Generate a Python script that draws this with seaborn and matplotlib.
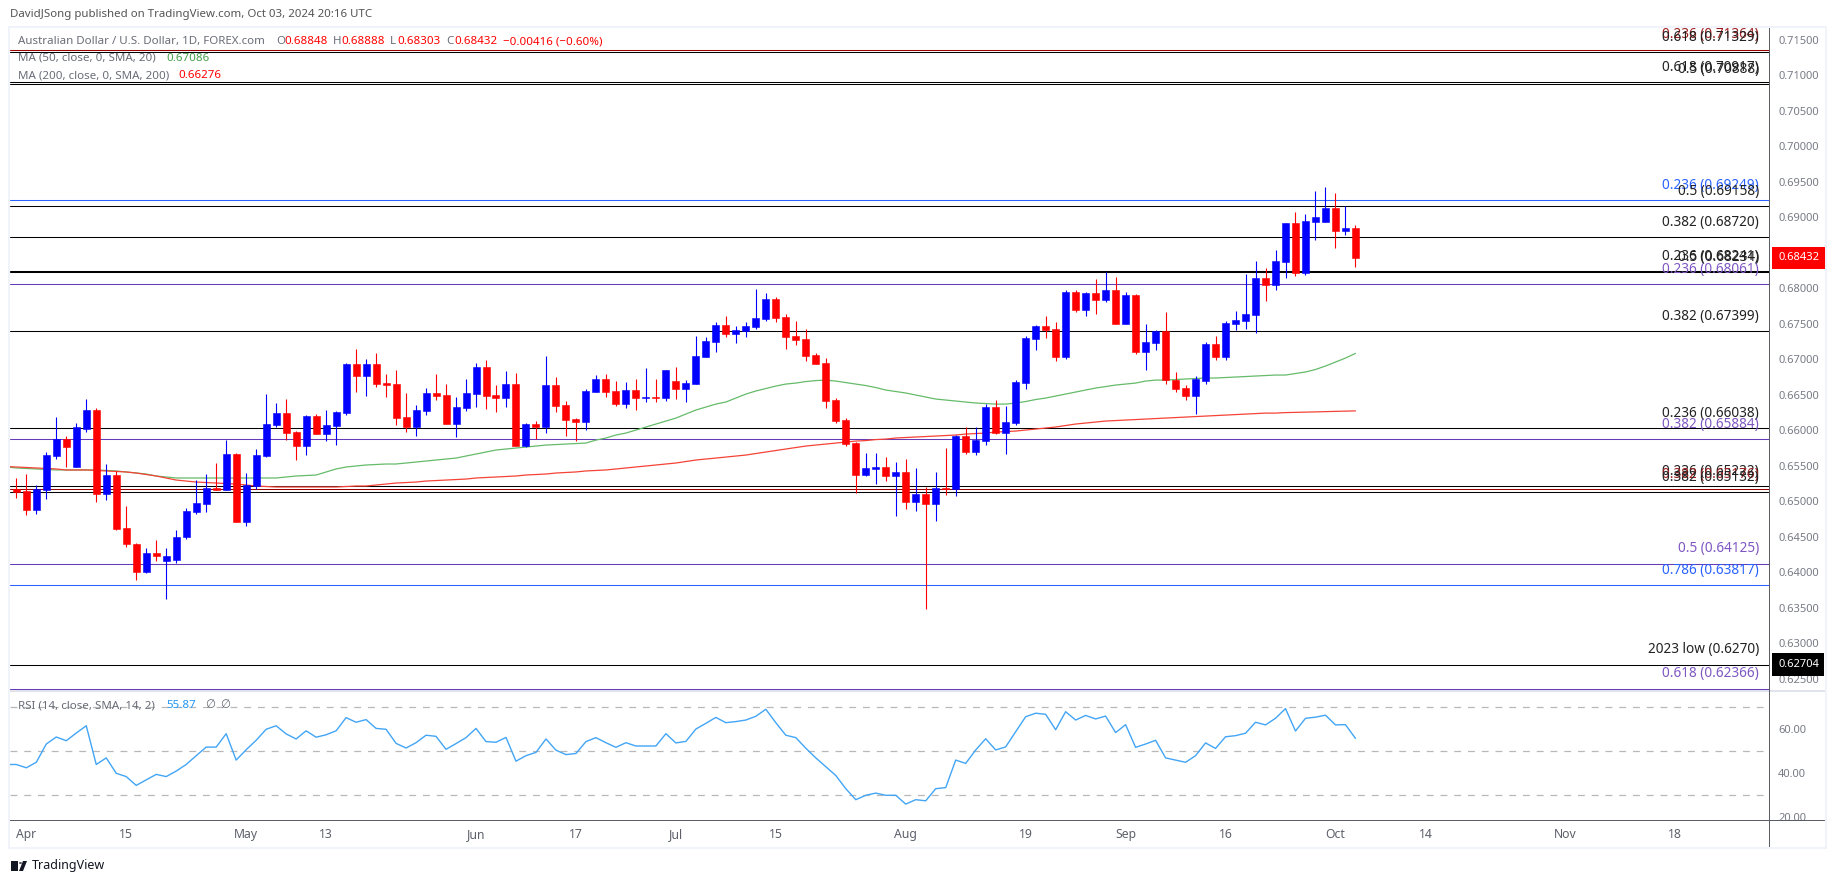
#!/usr/bin/env python3
"""AUD/USD daily candles with moving averages, fib levels and RSI"""

import numpy as np
import pandas as pd
import matplotlib
matplotlib.use('Agg')
import matplotlib.pyplot as plt
import matplotlib.transforms as mtrans
from matplotlib.patches import Rectangle, Circle, Polygon
import seaborn as sns

# Daily bars, first one is Mar 29 2024
opens = [0.6517, 0.6515, 0.6488, 0.6516, 0.6564, 0.6588, 0.6548, 0.6602, 0.6629, 0.6511,
         0.6537, 0.6463, 0.6440, 0.6401, 0.6427, 0.6416, 0.6418, 0.6450, 0.6485, 0.6497,
         0.6519, 0.6516, 0.6567, 0.6471, 0.6522, 0.6564, 0.6608, 0.6625, 0.6598, 0.6578,
         0.6621, 0.6595, 0.6606, 0.6625, 0.6694, 0.6677, 0.6694, 0.6667, 0.6665, 0.6619,
         0.6605, 0.6627, 0.6653, 0.6650, 0.6609, 0.6632, 0.6652, 0.6690, 0.6650, 0.6646,
         0.6665, 0.6578, 0.6609, 0.6605, 0.6664, 0.6636, 0.6616, 0.6612, 0.6654, 0.6673,
         0.6656, 0.6637, 0.6657, 0.6646, 0.6647, 0.6646, 0.6670, 0.6658, 0.6665, 0.6703,
         0.6725, 0.6748, 0.6736, 0.6740, 0.6746, 0.6757, 0.6785, 0.6760, 0.6733, 0.6729,
         0.6706, 0.6695, 0.6643, 0.6615, 0.6582, 0.6537, 0.6546, 0.6549, 0.6536, 0.6541,
         0.6499, 0.6511, 0.6497, 0.6519, 0.6518, 0.6592, 0.6570, 0.6585, 0.6633, 0.6597,
         0.6611, 0.6667, 0.6729, 0.6747, 0.6743, 0.6703, 0.6795, 0.6770, 0.6794, 0.6784,
         0.6798, 0.6750, 0.6791, 0.6711, 0.6723, 0.6740, 0.6671, 0.6660, 0.6649, 0.6670,
         0.6722, 0.6703, 0.6750, 0.6754, 0.6763, 0.6815, 0.6805, 0.6837, 0.6892, 0.6822,
         0.6894, 0.6894, 0.6913, 0.6881, 0.68848]
highs = [0.6533, 0.6539, 0.6523, 0.6570, 0.6619, 0.6592, 0.6611, 0.6644, 0.6632, 0.6553,
         0.6543, 0.6494, 0.6441, 0.6434, 0.6446, 0.6434, 0.6460, 0.6491, 0.6530, 0.6539,
         0.6554, 0.6587, 0.6568, 0.6540, 0.6574, 0.6651, 0.6639, 0.6644, 0.6599, 0.6622,
         0.6623, 0.6629, 0.6627, 0.6695, 0.6715, 0.6701, 0.6709, 0.6680, 0.6685, 0.6653,
         0.6636, 0.6660, 0.6680, 0.6665, 0.6647, 0.6673, 0.6695, 0.6699, 0.6664, 0.6684,
         0.6681, 0.6611, 0.6613, 0.6705, 0.6676, 0.6642, 0.6618, 0.6658, 0.6678, 0.6680,
         0.6670, 0.6668, 0.6673, 0.6688, 0.6673, 0.6685, 0.6690, 0.6671, 0.6733, 0.6732,
         0.6753, 0.6761, 0.6747, 0.6753, 0.6799, 0.6794, 0.6788, 0.6764, 0.6754, 0.6743,
         0.6709, 0.6702, 0.6646, 0.6618, 0.6584, 0.6568, 0.6568, 0.6563, 0.6556, 0.6560,
         0.6547, 0.6520, 0.6541, 0.6575, 0.6594, 0.6605, 0.6605, 0.6637, 0.6643, 0.6635,
         0.6671, 0.6733, 0.6749, 0.6761, 0.6753, 0.6798, 0.6798, 0.6795, 0.6813, 0.6823,
         0.6816, 0.6795, 0.6792, 0.6750, 0.6742, 0.6767, 0.6682, 0.6664, 0.6677, 0.6725,
         0.6733, 0.6754, 0.6768, 0.6820, 0.6839, 0.6829, 0.6854, 0.6892, 0.6908, 0.6905,
         0.6937, 0.6943, 0.6934, 0.6916, 0.68888]
lows = [0.6505, 0.6481, 0.6482, 0.6503, 0.6560, 0.6549, 0.6548, 0.6598, 0.6499, 0.6502,
        0.6460, 0.6436, 0.6389, 0.6399, 0.6416, 0.6363, 0.6413, 0.6447, 0.6482, 0.6485,
        0.6516, 0.6516, 0.6471, 0.6465, 0.6518, 0.6563, 0.6605, 0.6587, 0.6558, 0.6565,
        0.6595, 0.6585, 0.6580, 0.6622, 0.6654, 0.6649, 0.6661, 0.6647, 0.6608, 0.6598,
        0.6592, 0.6622, 0.6643, 0.6609, 0.6591, 0.6627, 0.6633, 0.6630, 0.6626, 0.6633,
        0.6578, 0.6577, 0.6588, 0.6597, 0.6626, 0.6592, 0.6585, 0.6601, 0.6654, 0.6647,
        0.6634, 0.6632, 0.6629, 0.6640, 0.6640, 0.6641, 0.6644, 0.6640, 0.6665, 0.6703,
        0.6711, 0.6732, 0.6723, 0.6732, 0.6743, 0.6754, 0.6753, 0.6715, 0.6720, 0.6698,
        0.6694, 0.6632, 0.6611, 0.6578, 0.6512, 0.6536, 0.6525, 0.6529, 0.6480, 0.6489,
        0.6487, 0.6349, 0.6473, 0.6509, 0.6508, 0.6567, 0.6565, 0.6580, 0.6595, 0.6567,
        0.6608, 0.6658, 0.6713, 0.6730, 0.6698, 0.6701, 0.6767, 0.6761, 0.6764, 0.6781,
        0.6750, 0.6750, 0.6708, 0.6685, 0.6713, 0.6665, 0.6654, 0.6643, 0.6623, 0.6665,
        0.6699, 0.6699, 0.6741, 0.6743, 0.6737, 0.6782, 0.6798, 0.6815, 0.6818, 0.6819,
        0.6868, 0.6894, 0.6857, 0.6875, 0.68303]
closes = [0.6513, 0.6488, 0.6518, 0.6566, 0.6588, 0.6577, 0.6605, 0.6629, 0.6511, 0.6537,
          0.6461, 0.6440, 0.6401, 0.6427, 0.6423, 0.6423, 0.6450, 0.6487, 0.6498, 0.6519,
          0.6516, 0.6567, 0.6471, 0.6523, 0.6566, 0.6609, 0.6625, 0.6597, 0.6578, 0.6621,
          0.6595, 0.6608, 0.6626, 0.6694, 0.6677, 0.6694, 0.6665, 0.6664, 0.6617, 0.6605,
          0.6629, 0.6653, 0.6649, 0.6609, 0.6633, 0.6653, 0.6690, 0.6649, 0.6646, 0.6665,
          0.6578, 0.6609, 0.6605, 0.6664, 0.6634, 0.6615, 0.6612, 0.6656, 0.6673, 0.6654,
          0.6637, 0.6657, 0.6646, 0.6647, 0.6646, 0.6685, 0.6658, 0.6667, 0.6705, 0.6726,
          0.6748, 0.6736, 0.6741, 0.6747, 0.6758, 0.6785, 0.6758, 0.6732, 0.6727, 0.6705,
          0.6694, 0.6641, 0.6613, 0.6581, 0.6537, 0.6547, 0.6549, 0.6536, 0.6541, 0.6499,
          0.6511, 0.6497, 0.6519, 0.6518, 0.6592, 0.6570, 0.6587, 0.6633, 0.6597, 0.6612,
          0.6668, 0.6730, 0.6747, 0.6742, 0.6703, 0.6795, 0.6770, 0.6794, 0.6784, 0.6798,
          0.6750, 0.6791, 0.6711, 0.6725, 0.6740, 0.6671, 0.6658, 0.6649, 0.6672, 0.6722,
          0.6703, 0.6751, 0.6756, 0.6764, 0.6815, 0.6805, 0.6839, 0.6892, 0.6822, 0.6895,
          0.6901, 0.6913, 0.6881, 0.6885, 0.68432]

# Indicators, these start one bar earlier (Mar 28) since the pane cuts them off at the left edge
ma50 = [0.65486, 0.65472, 0.65465, 0.65458, 0.65451, 0.65444, 0.65444, 0.65444, 0.65444, 0.65444,
        0.65437, 0.6543, 0.65416, 0.65401, 0.65387, 0.65359, 0.65345, 0.65331, 0.65331, 0.65331,
        0.65331, 0.65331, 0.65331, 0.65331, 0.65331, 0.65331, 0.65331, 0.65331, 0.65345, 0.65359,
        0.65366, 0.65373, 0.65416, 0.65458, 0.65486, 0.655, 0.65514, 0.65521, 0.65528, 0.65528,
        0.65542, 0.65556, 0.6557, 0.65584, 0.65598, 0.65612, 0.6564, 0.65668, 0.65697, 0.65725,
        0.65739, 0.65753, 0.65767, 0.65781, 0.65795, 0.65802, 0.65809, 0.65816, 0.65823, 0.65865,
        0.65894, 0.65936, 0.65964, 0.66006, 0.66049, 0.66091, 0.66133, 0.66175, 0.66232, 0.66288,
        0.6633, 0.66372, 0.66401, 0.66457, 0.66513, 0.66556, 0.66591, 0.66626, 0.66654, 0.66668,
        0.66689, 0.66703, 0.6671, 0.66696, 0.66675, 0.66654, 0.66633, 0.66605, 0.6657, 0.66549,
        0.66528, 0.665, 0.66471, 0.66443, 0.66429, 0.66415, 0.66401, 0.66387, 0.6638, 0.66372,
        0.66372, 0.66387, 0.66408, 0.66436, 0.66457, 0.66485, 0.66513, 0.66542, 0.6657, 0.66598,
        0.66619, 0.6664, 0.66654, 0.66668, 0.66696, 0.6671, 0.6671, 0.66718, 0.66725, 0.66732,
        0.66739, 0.66739, 0.66746, 0.66753, 0.6676, 0.66767, 0.66774, 0.66781, 0.66781, 0.66802,
        0.66824, 0.66859, 0.66908, 0.66964, 0.6702, 0.67086]
ma200 = [0.65493, 0.65486, 0.65479, 0.65472, 0.65465, 0.65458, 0.65444, 0.65444, 0.65444, 0.65437,
         0.6543, 0.65423, 0.65416, 0.65401, 0.6538, 0.65359, 0.65331, 0.65302, 0.65288, 0.65274,
         0.65267, 0.6526, 0.65253, 0.65246, 0.65232, 0.65218, 0.65211, 0.65204, 0.65204, 0.65204,
         0.65204, 0.65204, 0.65204, 0.65204, 0.65211, 0.65218, 0.65218, 0.65232, 0.65246, 0.6526,
         0.65267, 0.65274, 0.65288, 0.65295, 0.65302, 0.65309, 0.65316, 0.65331, 0.65338, 0.65345,
         0.65352, 0.65359, 0.65373, 0.6538, 0.65387, 0.65401, 0.65408, 0.65416, 0.6543, 0.65437,
         0.65444, 0.65458, 0.65472, 0.65486, 0.655, 0.65514, 0.65528, 0.65542, 0.65563, 0.65584,
         0.65598, 0.65612, 0.65626, 0.6564, 0.65654, 0.65676, 0.65697, 0.65718, 0.65739, 0.6576,
         0.65781, 0.65795, 0.65809, 0.65823, 0.65837, 0.65851, 0.65858, 0.65872, 0.65879, 0.65894,
         0.65901, 0.65908, 0.65915, 0.65922, 0.65929, 0.65936, 0.6595, 0.65957, 0.65964, 0.65978,
         0.65985, 0.65992, 0.66006, 0.6602, 0.66035, 0.66049, 0.6607, 0.66091, 0.66105, 0.66119,
         0.66133, 0.6614, 0.66147, 0.66154, 0.66161, 0.66168, 0.66175, 0.66182, 0.66189, 0.66196,
         0.66203, 0.6621, 0.66217, 0.66224, 0.66231, 0.66238, 0.66245, 0.66245, 0.66252, 0.66255,
         0.66259, 0.66262, 0.66266, 0.6627, 0.66273, 0.66276]
rsi = [44, 44, 42.5, 45, 53.3, 56.5, 54.8, 58.3, 61.6, 44,
       47, 40, 38.5, 34.5, 37, 39.5, 38.5, 41, 44, 48,
       51.9, 51.9, 58, 46, 50.7, 55, 60, 61.6, 57.9, 55.6,
       59.3, 56.4, 57.5, 59.3, 65.3, 63.2, 64.4, 60.4, 60, 53.6,
       51.5, 53.9, 57.3, 56.8, 50.9, 53.5, 56.2, 60.4, 54.4, 54.1,
       56.3, 45.5, 48, 49.5, 55.6, 50.5, 48.5, 49, 54.4, 56.2,
       53.9, 51.8, 53.9, 52.4, 52.4, 52.4, 58, 53.8, 54.5, 60.1,
       62.7, 65.4, 63, 63.5, 64.2, 65.9, 69.1, 63, 57.3, 56.2,
       51.4, 47, 43, 39, 33, 28, 30, 31, 30, 30,
       26, 28, 27.5, 33, 33.5, 46, 44.5, 50.6, 55.7, 50.6,
       52, 58.9, 65.7, 67.3, 66.8, 59.8, 68, 64.2, 66.3, 64.7,
       66, 58.5, 62.1, 51.8, 53.3, 55, 47, 46, 45, 48,
       53.8, 51.3, 56.6, 57.1, 58.2, 63.2, 62, 65, 69.4, 59.2,
       65, 65.5, 66.4, 62, 62.1, 55.87]

# Horizontal levels drawn on the chart
level_values = [0.71364, 0.71329, 0.70905, 0.70877, 0.69249, 0.69158, 0.68720, 0.68241, 0.68234,
                0.68061, 0.67399, 0.66038, 0.65884, 0.65222, 0.65176, 0.65132, 0.64125, 0.63817,
                0.62704, 0.62366]
level_labels = ['0.236 (0.71364)', '0.618 (0.71329)', '0.618 (0.70917)', '0.5 (0.70888)',
                '0.236 (0.69249)', '0.5 (0.69158)', '0.382 (0.68720)', '0.236 (0.68241)',
                '0.5 (0.68234)', '0.236 (0.68061)', '0.382 (0.67399)', '0.236 (0.66038)',
                '0.382 (0.65884)', '0.236 (0.65222)', '0.382 (0.65176)', '0.382 (0.65132)',
                '0.5 (0.64125)', '0.786 (0.63817)', '2023 low (0.6270)', '0.618 (0.62366)']
level_kinds = ['red', 'black', 'black', 'black', 'blue', 'black', 'black', 'black', 'black',
               'purple', 'black', 'black', 'purple', 'black', 'red', 'black', 'purple', 'blue',
               'black', 'purple']

tick_dates = ['2024-04-01', '2024-04-15', '2024-05-01', '2024-05-13', '2024-06-03', '2024-06-17',
              '2024-07-01', '2024-07-15', '2024-08-01', '2024-08-19', '2024-09-02', '2024-09-16',
              '2024-10-01', '2024-10-14', '2024-11-01', '2024-11-18']
tick_labels = ['Apr', '15', 'May', '13', 'Jun', '17', 'Jul', '15', 'Aug', '19', 'Sep', '16',
               'Oct', '14', 'Nov', '18']
price_ticks = [0.625, 0.63, 0.635, 0.64, 0.645, 0.65, 0.655, 0.66, 0.665, 0.67, 0.675, 0.68,
               0.685, 0.69, 0.695, 0.70, 0.705, 0.71, 0.715]
rsi_ticks = [20, 40, 60]

W, H = 1835, 883
BLUE = '#0000ff'
RED = '#ff0000'
GREY = '#6a6d78'
LEVEL_COLORS = {'black': '#000000', 'red': '#990000', 'blue': '#2962ff', 'purple': '#673ab7'}
TEXT_COLORS = {'black': '#222222', 'red': '#a02020', 'blue': '#2962ff', 'purple': '#7e57c2'}

sns.set_theme(style='white')
plt.rcParams['font.family'] = ['Noto Sans', 'DejaVu Sans']

fig = plt.figure(figsize=(W / 100, H / 100), dpi=100, facecolor='white')


def pane(x0, y0, x1, y1):
    # axes from pixel box, y counted from the top like the screenshot
    return fig.add_axes([x0 / W, 1 - y1 / H, (x1 - x0) / W, (y1 - y0) / H])


def fig_box(x0, y0, x1, y1, color):
    fig.add_artist(Rectangle((x0 / W, 1 - y1 / H), (x1 - x0) / W, (y1 - y0) / H,
                             transform=fig.transFigure, facecolor=color, edgecolor='none'))


def fig_text(x, y, s, color=GREY, size=8.2, **kw):
    fig.text(x / W, 1 - y / H, s, color=color, fontsize=size, va='center', **kw)


ax = pane(10, 27, 1769, 690)
ax_rsi = pane(10, 691, 1769, 820)

start = pd.Timestamp('2024-03-29')
idx = np.arange(len(opens))
ind_x = np.arange(-1, len(opens))

# moving averages
sns.lineplot(x=ind_x, y=ma50, ax=ax, color='#66bb6a', lw=0.9, estimator=None, zorder=2)
sns.lineplot(x=ind_x, y=ma200, ax=ax, color='#f44336', lw=0.9, estimator=None, zorder=2)

# levels
trans = mtrans.blended_transform_factory(ax.transAxes, ax.transData)
for val, lab, kind in zip(level_values, level_labels, level_kinds):
    ax.axhline(val, color=LEVEL_COLORS[kind], lw=0.75, zorder=1)
    ax.annotate(lab, xy=(1, val), xycoords=trans, xytext=(-7.2, 10.6), textcoords='offset points',
                ha='right', va='center', fontsize=9.8, color=TEXT_COLORS[kind], zorder=5)

# candles
for i in idx:
    up = closes[i] >= opens[i]
    col = BLUE if up else RED
    ax.vlines(i, lows[i], highs[i], color=col, lw=0.8, zorder=3)
    ax.bar(i, abs(closes[i] - opens[i]), bottom=min(opens[i], closes[i]), width=0.7,
           color=col, edgecolor=col, linewidth=0.4, zorder=4)

ax.set_xlim(-0.63, 175.38)
ax.set_ylim(0.62345, 0.71683)
ax.set_yticks(price_ticks)
ax.set_yticklabels([f'{t:.5f}' for t in price_ticks])
ax.yaxis.tick_right()
ax.tick_params(axis='y', length=0, pad=6.5, labelsize=8.0, labelcolor='#787b86')
ax.set_xticks([])

# price tags on the axis
for val, bg in [(closes[-1], RED), (level_values[-2], '#000000')]:
    ax.annotate(f'{val:.5f}', xy=(1, val), xycoords=trans, xytext=(6.5, 0), textcoords='offset points',
                ha='left', va='center', fontsize=8.0, fontweight='bold', color='white', annotation_clip=False,
                bbox=dict(boxstyle='square,pad=0.5', fc=bg, ec='none'), zorder=10)

# RSI
for lvl in (70, 50, 30):
    ax_rsi.axhline(lvl, color='#b8b8b8', lw=0.9, dashes=(5.5, 5.5), zorder=1)
sns.lineplot(x=ind_x, y=rsi, ax=ax_rsi, color='#42a5f5', lw=1.0, estimator=None, zorder=2)
ax_rsi.set_xlim(-0.63, 175.38)
ax_rsi.set_ylim(18.77, 77.4)
ax_rsi.set_yticks(rsi_ticks)
ax_rsi.set_yticklabels([f'{t:.2f}' for t in rsi_ticks])
ax_rsi.yaxis.tick_right()
ax_rsi.tick_params(axis='y', length=0, pad=6.5, labelsize=8.0, labelcolor='#787b86')
tick_pos = [np.busday_count(start.date(), pd.Timestamp(d).date()) for d in tick_dates]
ax_rsi.set_xticks(tick_pos)
ax_rsi.set_xticklabels(tick_labels)
ax_rsi.tick_params(axis='x', length=0, pad=6, labelsize=8.8, labelcolor='#5d606b')

for a in (ax, ax_rsi):
    a.set_facecolor('white')
    for s in a.spines.values():
        s.set_visible(False)
    a.grid(False)
    a.set_xlabel('')
    a.set_ylabel('')

# frame around the chart
fig_box(8, 26, 1827, 28, '#f0f3fa')
fig_box(8, 26, 10, 849, '#f0f3fa')
fig_box(1825, 26, 1827, 849, '#f0f3fa')
fig_box(8, 847, 1827, 849, '#f0f3fa')
fig_box(10, 690, 1825, 691.5, '#e0e3eb')
fig_box(10, 819.5, 1825, 821, '#5a5d66')
fig_box(1768.5, 28, 1770, 847, '#5a5d66')

# header and legends
fig_text(10, 14.5, 'DavidJSong published on TradingView.com, Oct 03, 2024 20:16 UTC', color='#555555', size=8.25)
fig_text(18, 41.5, 'Australian Dollar / U.S. Dollar, 1D, FOREX.com', size=8.3)
for x, name, x2, value in [(276, 'O', 284, '0.68848'), (333, 'H', 341, '0.68888'),
                           (390, 'L', 397, '0.68303'), (446, 'C', 454, '0.68432')]:
    fig_text(x, 41.5, name, size=8.3)
    fig_text(x2, 41.5, value, color=RED, size=8.3)
fig_text(503, 41.5, '\u22120.00416 (\u22120.60%)', color=RED, size=8.3)
fig_text(18, 58.5, 'MA (50, close, 0, SMA, 20)', size=8.3)
fig_text(166, 58.5, '0.67086', color='#43a047', size=8.3)
fig_text(18, 76, 'MA (200, close, 0, SMA, 200)', size=8.3)
fig_text(178, 76, '0.66276', color=RED, size=8.3)
fig_text(18, 706, 'RSI (14, close, SMA, 14, 2)', size=8.3)
fig_text(166, 706, '55.87', color='#2196f3', size=8.3, fontweight='bold')
fig_text(205, 706, '\u2205', size=8.3)
fig_text(220, 706, '\u2205', size=8.3)

# little TradingView mark at the bottom
fig_box(11, 861, 18, 871, '#131722')
fig.add_artist(Circle((20.5 / W, 1 - 863 / H), 1.5 / W, transform=fig.transFigure, facecolor='#131722', edgecolor='none'))
fig.add_artist(Polygon([(19 / W, 1 - 871 / H), (23 / W, 1 - 861 / H), (27 / W, 1 - 861 / H), (23 / W, 1 - 871 / H)],
                       transform=fig.transFigure, facecolor='#131722', edgecolor='none'))
fig_text(32, 866, 'TradingView', color='#131722', size=9.0, fontweight='medium')

fig.savefig('out.png', dpi=100)
